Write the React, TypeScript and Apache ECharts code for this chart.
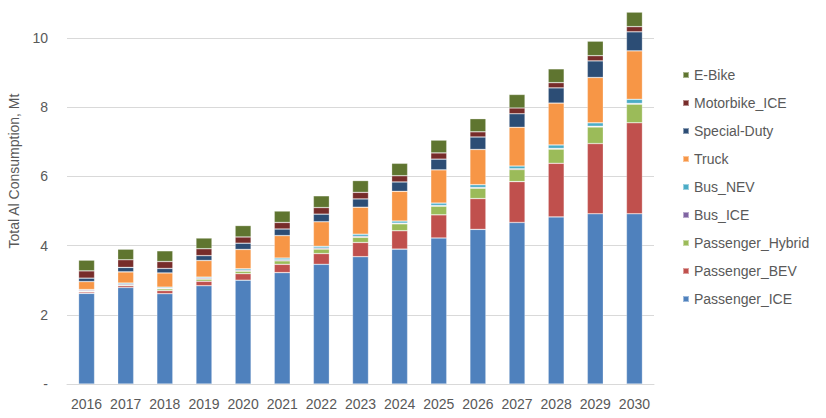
import React, { useEffect, useRef } from "react";
import * as echarts from "echarts";

const years = ["2016","2017","2018","2019","2020","2021","2022","2023","2024","2025","2026","2027","2028","2029","2030"];

const passengerICE = [2.62, 2.79, 2.61, 2.84, 3.0, 3.22, 3.46, 3.68, 3.9, 4.22, 4.47, 4.67, 4.83, 4.92, 4.92];
const passengerBEV = [0.04, 0.05, 0.09, 0.13, 0.19, 0.24, 0.31, 0.41, 0.53, 0.67, 0.89, 1.18, 1.55, 2.03, 2.63];
const passengerHybrid = [0.02, 0.02, 0.05, 0.06, 0.07, 0.1, 0.13, 0.15, 0.2, 0.25, 0.3, 0.35, 0.41, 0.48, 0.54];
const busICE = [0.03, 0.03, 0.02, 0.03, 0.03, 0.03, 0.03, 0.03, 0.02, 0.02, 0.02, 0.02, 0.02, 0.02, 0.02];
const busNEV = [0.02, 0.03, 0.03, 0.03, 0.04, 0.05, 0.05, 0.06, 0.06, 0.07, 0.08, 0.08, 0.1, 0.1, 0.12];
const truck = [0.23, 0.32, 0.41, 0.48, 0.56, 0.65, 0.71, 0.78, 0.86, 0.96, 1.02, 1.12, 1.21, 1.31, 1.4];
const specialDuty = [0.1, 0.13, 0.13, 0.14, 0.18, 0.19, 0.22, 0.24, 0.27, 0.31, 0.36, 0.39, 0.44, 0.48, 0.55];
const motorbikeICE = [0.21, 0.22, 0.2, 0.2, 0.18, 0.19, 0.19, 0.19, 0.18, 0.18, 0.15, 0.17, 0.15, 0.15, 0.15];
const eBike = [0.31, 0.31, 0.31, 0.31, 0.33, 0.33, 0.34, 0.34, 0.36, 0.37, 0.38, 0.39, 0.4, 0.42, 0.42];

const yTicks = [0, 2, 4, 6, 8, 10];

const seriesDefs = [
  { name: "Passenger_ICE", data: passengerICE, color: "#4F81BD" },
  { name: "Passenger_BEV", data: passengerBEV, color: "#C0504D" },
  { name: "Passenger_Hybrid", data: passengerHybrid, color: "#9BBB59" },
  { name: "Bus_ICE", data: busICE, color: "#8064A2" },
  { name: "Bus_NEV", data: busNEV, color: "#4BACC6" },
  { name: "Truck", data: truck, color: "#F79646" },
  { name: "Special-Duty", data: specialDuty, color: "#2C4D75" },
  { name: "Motorbike_ICE", data: motorbikeICE, color: "#772C2A" },
  { name: "E-Bike", data: eBike, color: "#5F7530" },
];

const FONT = "'Liberation Sans', Arial, sans-serif";

export default function App() {
  const ref = useRef<HTMLDivElement>(null);
  useEffect(() => {
    if (!ref.current) return;
    const chart = echarts.init(ref.current, undefined, { renderer: "svg" });
    chart.setOption({
      animation: false,
      backgroundColor: "#ffffff",
      grid: { left: 67, right: 172, top: 0, bottom: 34 },
      legend: {
        orient: "vertical",
        left: 677,
        top: 63,
        itemWidth: 6,
        itemHeight: 6,
        itemGap: 14,
        icon: "rect",
        data: seriesDefs.map((s) => s.name).reverse(),
        textStyle: { fontFamily: FONT, fontSize: 14, color: "#595959", lineHeight: 14, padding: [0, 0, 0, 0] },
      },
      xAxis: {
        type: "category",
        data: years,
        axisTick: { show: false },
        axisLine: { lineStyle: { color: "#D9D9D9", width: 1 } },
        axisLabel: { fontFamily: FONT, fontSize: 14, color: "#595959", margin: 13, interval: 0 },
      },
      yAxis: {
        type: "value",
        min: 0,
        max: 11.1,
        interval: 2,
        axisLine: { show: false },
        axisTick: { show: false },
        splitLine: { showMaxLine: false, lineStyle: { color: "#D9D9D9", width: 1 } },
        axisLabel: {
          fontFamily: FONT,
          fontSize: 14,
          color: "#595959",
          margin: 19,
          showMaxLabel: false,
          formatter: (v: number) => (yTicks.includes(v) ? (v === 0 ? "-" : String(v)) : ""),
        },
      },
      graphic: [
        {
          type: "text",
          x: 14,
          y: 171,
          rotation: Math.PI / 2,
          style: {
            text: "Total Al Consumption, Mt",
            fontFamily: FONT,
            fontSize: 14,
            fill: "#595959",
            textAlign: "center",
            textVerticalAlign: "middle",
          },
        },
      ],
      series: seriesDefs.map((s) => ({
        name: s.name,
        type: "bar",
        stack: "total",
        barWidth: 16,
        data: s.data,
        itemStyle: { color: s.color, borderColor: "rgba(255,255,255,0.45)", borderWidth: 0.6 },
        emphasis: { disabled: true },
      })),
    });
    return () => chart.dispose();
  }, []);
  return <div ref={ref} style={{ position: "absolute", left: 0, top: 0, width: 826, height: 418 }} />;
}
